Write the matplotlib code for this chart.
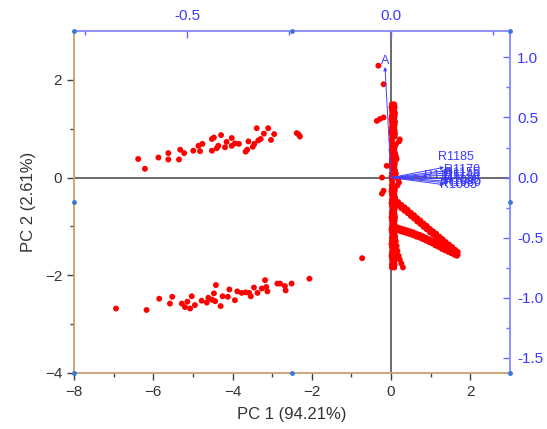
import matplotlib
matplotlib.use("Agg")
import matplotlib.pyplot as plt
import numpy as np

plt.rcParams['font.family'] = ['Liberation Sans', 'DejaVu Sans']

# ---------------- data (scores) ----------------
up_x = [-6.38, -6.21, -5.87, -5.62, -5.62, -5.35, -5.32, -5.22, -4.99, -4.86, -4.82, -4.76,
        -4.52, -4.52, -4.47, -4.40, -4.36, -4.29, -4.19, -4.15, -4.02, -4.02, -3.94, -3.84,
        -3.67, -3.63, -3.60, -3.49, -3.45, -3.39, -3.35, -3.29, -3.21, -3.10, -3.03, -2.95,
        -2.38, -2.33, -2.30]
up_y = [0.38, 0.18, 0.41, 0.50, 0.37, 0.37, 0.57, 0.50, 0.55, 0.65, 0.54, 0.69,
        0.55, 0.79, 0.82, 0.60, 0.65, 0.87, 0.62, 0.73, 0.81, 0.65, 0.70, 0.69,
        0.53, 0.57, 0.74, 0.63, 0.69, 1.01, 0.76, 0.79, 0.90, 1.01, 0.77, 0.89,
        0.91, 0.88, 0.84]

low_x = [-6.94, -6.17, -5.85, -5.58, -5.52, -5.28, -5.20, -5.14, -5.07, -5.03, -4.95, -4.78,
         -4.65, -4.61, -4.52, -4.47, -4.42, -4.44, -4.30, -4.25, -4.12, -4.08, -3.94, -3.88,
         -3.77, -3.67, -3.58, -3.54, -3.46, -3.37, -3.26, -3.18, -3.15, -3.12, -2.87, -2.80,
         -2.68, -2.66, -2.51, -2.06]
low_y = [-2.68, -2.71, -2.48, -2.58, -2.44, -2.58, -2.65, -2.54, -2.68, -2.43, -2.61, -2.52,
         -2.56, -2.46, -2.50, -2.37, -2.20, -2.53, -2.63, -2.43, -2.44, -2.29, -2.51, -2.33,
         -2.36, -2.35, -2.36, -2.43, -2.25, -2.36, -2.27, -2.10, -2.24, -2.33, -2.17, -2.17,
         -2.22, -2.31, -2.17, -2.07]

col_y = [1.50, 1.44, 1.38, 1.32, 1.26, 1.20, 1.14, 1.08, 1.02, 0.96, 0.90, 0.84, 0.78, 0.74,
         0.68, 0.62, 0.56, 0.50, 0.44, 0.38, 0.32, 0.26, 0.20, 0.14, 0.08, 0.02, -0.04, -0.10,
         -0.16, -0.22, -0.28, -0.34, -0.40, -0.46, -0.52, -0.58, -0.64, -0.70, -0.76, -0.82,
         -0.88, -0.94, -1.00, -1.06, -1.12, -1.18, -1.24, -1.30, -1.36, -1.42, -1.48, -1.54,
         -1.60, -1.66, -1.72, -1.78, -1.84]
col_xa = [0.02, 0.01, 0.02, 0.03, 0.02, 0.01, 0.02, 0.03, 0.02, 0.02, 0.01, 0.03, 0.02, 0.02,
          0.03, 0.02, 0.01, 0.02, 0.03, 0.02, 0.02, 0.01, 0.02, 0.03, 0.02, 0.01, 0.02, 0.03,
          0.02, 0.02, 0.01, 0.02, 0.03, 0.02, 0.01, 0.02, 0.03, 0.02, 0.02, 0.01, 0.02, 0.03,
          0.02, 0.01, 0.02, 0.03, 0.02, 0.02, 0.01, 0.02, 0.03, 0.02, 0.01, 0.02, 0.03, 0.02,
          0.02]
col_xb = [0.08, 0.09, 0.08, 0.10, 0.09, 0.08, 0.10, 0.09, 0.08, 0.09, 0.10, 0.09, 0.22, 0.20,
          0.12, 0.09, 0.08, 0.10, 0.12, 0.14, 0.10, 0.09, 0.08, 0.10, 0.12, 0.09, 0.18, 0.20,
          0.16, 0.10, 0.09, 0.08, 0.10, 0.09, 0.08, 0.10, 0.09, 0.08, 0.09, 0.10, 0.09, 0.08,
          0.10, 0.09, 0.09, 0.08, 0.10, 0.09, 0.09, 0.08, 0.10, 0.09, 0.08, 0.09, 0.08, 0.09,
          0.08]

arm1_x = [0.10, 0.18, 0.26, 0.34, 0.42, 0.50, 0.58, 0.66, 0.74, 0.82, 0.90, 0.98, 1.06, 1.14,
          1.22, 1.30, 1.38, 1.46, 1.54, 1.62, 1.68]
arm1_y = [-0.44, -0.50, -0.56, -0.61, -0.66, -0.72, -0.77, -0.83, -0.88, -0.94, -0.99, -1.05,
          -1.10, -1.15, -1.21, -1.26, -1.32, -1.37, -1.42, -1.48, -1.52]
arm1b_y = [-0.51, -0.57, -0.63, -0.68, -0.73, -0.79, -0.84, -0.90, -0.95, -1.01, -1.06, -1.12,
           -1.17, -1.22, -1.28, -1.33, -1.39, -1.43, -1.48, -1.54, -1.58]

arm2_x = [0.08, 0.16, 0.24, 0.32, 0.40, 0.48, 0.56, 0.64, 0.72, 0.80, 0.88, 0.96, 1.04, 1.12,
          1.20, 1.28, 1.36, 1.44, 1.52, 1.60, 1.66]
arm2_y = [-1.03, -1.02, -1.04, -1.06, -1.08, -1.10, -1.12, -1.15, -1.17, -1.20, -1.23, -1.26,
          -1.29, -1.33, -1.36, -1.40, -1.43, -1.46, -1.49, -1.53, -1.55]
arm2b_y = [-1.09, -1.08, -1.10, -1.12, -1.14, -1.16, -1.18, -1.21, -1.23, -1.26, -1.29, -1.32,
           -1.35, -1.39, -1.42, -1.46, -1.49, -1.52, -1.55, -1.58, -1.60]

desc_x = [0.10, 0.12, 0.14, 0.16, 0.19, 0.22, 0.26, 0.30]
desc_y = [-1.20, -1.30, -1.40, -1.50, -1.60, -1.68, -1.76, -1.84]

misc_x = [-0.32, -0.19, -0.36, -0.28, -0.19, -0.11, -0.23, -0.19, -0.23, -0.73]
misc_y = [2.29, 1.91, 1.16, 1.20, 1.23, 0.24, 0.00, -0.27, -0.33, -1.65]

# ---------------- data (loadings) ----------------
load_names = ["A", "R1185", "R1170", "R1155", "R1140", "R1125", "R1110", "R1095", "R1080", "R1065"]
load_x = [-0.015, 0.13, 0.14, 0.14, 0.14, 0.09, 0.14, 0.14, 0.14, 0.13]
load_y = [0.92, 0.085, 0.06, 0.04, 0.02, 0.01, -0.01, -0.03, -0.045, -0.06]

pc1_label = "PC 1 (94.21%)"
pc2_label = "PC 2 (2.61%)"

# ---------------- figure ----------------
fig = plt.figure(figsize=(5.47, 4.29), dpi=100)
pos = [74/547, 1-373/429, (510-74)/547, (373-31)/429]
ax = fig.add_axes(pos)

red = '#ff0000'
ms = 18
ax.axhline(0, color='#606060', lw=1.3, zorder=1)
ax.axvline(0, color='#606060', lw=1.3, zorder=1)
for xs, ys in [(up_x, up_y), (low_x, low_y), (col_xa, col_y), (col_xb, col_y),
               (arm1_x, arm1_y), (arm1_x, arm1b_y), (arm2_x, arm2_y), (arm2_x, arm2b_y),
               (desc_x, desc_y), (misc_x, misc_y)]:
    ax.scatter(xs, ys, s=ms, color=red, edgecolors='none', zorder=3)

ax.set_xlim(-8, 3)
ax.set_ylim(-4, 3)
ax.set_xticks([-8, -6, -4, -2, 0, 2])
ax.set_xticks([-7, -5, -3, -1, 1], minor=True)
ax.set_yticks([-4, -2, 0, 2])
ax.set_yticks([-3, -1, 1], minor=True)
ax.tick_params(axis='both', which='major', direction='out', length=5, width=1,
               colors='#404040', labelsize=11, labelcolor='#333333')
ax.tick_params(axis='both', which='minor', direction='out', length=3, width=1, colors='#404040')
ax.set_xlabel(pc1_label, fontsize=12, color='#333333', labelpad=6)
ax.set_ylabel(pc2_label, fontsize=12, color='#333333', labelpad=6)
for s in ['left', 'bottom']:
    ax.spines[s].set_color('#c8a070')
    ax.spines[s].set_linewidth(1.3)
for s in ['top', 'right']:
    ax.spines[s].set_visible(False)

# loading axes
scale_x = 10.3
scale_y = 2.46
ax2 = fig.add_axes(pos, facecolor='none')
ax2.set_xlim(-8/scale_x, 3/scale_x)
ax2.set_ylim(-4/scale_y, 3/scale_y)
blue = '#3a3aff'
ax2.xaxis.tick_top()
ax2.yaxis.tick_right()
ax2.set_xticks([-0.5, 0.0])
ax2.set_xticks([-0.75, -0.25, 0.25], minor=True)
ax2.set_yticks([-1.5, -1.0, -0.5, 0.0, 0.5, 1.0])
ax2.set_yticks([-1.25, -0.75, -0.25, 0.25, 0.75], minor=True)
ax2.xaxis.set_major_formatter(matplotlib.ticker.FormatStrFormatter('%.1f'))
ax2.yaxis.set_major_formatter(matplotlib.ticker.FormatStrFormatter('%.1f'))
ax2.tick_params(axis='both', which='major', direction='in', length=5, width=1,
                colors='#6a6aff', labelsize=11, labelcolor=blue)
ax2.tick_params(axis='both', which='minor', direction='in', length=3, width=1, colors='#6a6aff')
ax2.tick_params(axis='x', which='major', pad=6)
ax2.tick_params(axis='y', which='major', pad=5)
for s in ['left', 'bottom']:
    ax2.spines[s].set_visible(False)
for s in ['top', 'right']:
    ax2.spines[s].set_color('#8888ff')
    ax2.spines[s].set_linewidth(1.3)

for name, lx, ly in zip(load_names, load_x, load_y):
    ax2.annotate('', xy=(lx, ly), xytext=(0, 0),
                 arrowprops=dict(arrowstyle='-|>', color='#4444ff', lw=0.7,
                                 mutation_scale=5, shrinkA=0, shrinkB=0), zorder=4)
    if name == 'A':
        ax2.text(lx, ly, name, color=blue, fontsize=9, ha='center', va='bottom', zorder=5)
    elif name == 'R1185':
        ax2.text(lx + 0.03, ly + 0.04, name, color=blue, fontsize=9, ha='center',
                 va='bottom', zorder=5)
    else:
        ax2.text(lx - 0.01, ly, name, color=blue, fontsize=9, ha='left', va='center', zorder=5)

# anchor dots on the frame
dot_pts = [(0, 1), (0.5, 1), (1, 1), (1, 0.5), (1, 0), (0.5, 0), (0, 0.5), (0, 0)]
for px, py in dot_pts:
    ax2.plot(px, py, marker='o', ms=2.5, color='#3a78d8', transform=ax2.transAxes,
             clip_on=False, zorder=6)

fig.savefig('out.png', dpi=100)
